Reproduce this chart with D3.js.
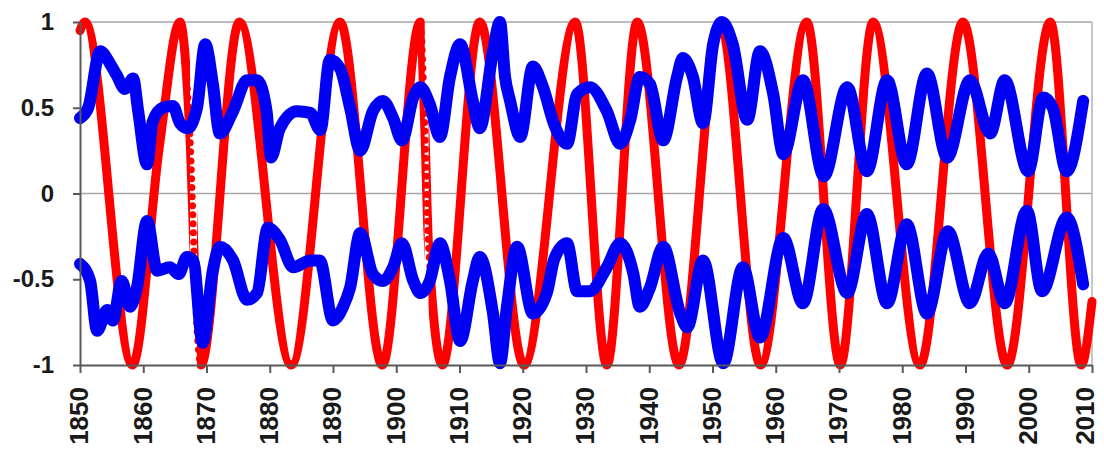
<!DOCTYPE html>
<html>
<head>
<meta charset="utf-8">
<script src="https://cdn.jsdelivr.net/npm/d3@7"></script>
<style>
  body { margin: 0; background: #fff; }
  svg { display: block; font-family: "Liberation Sans", Arial, sans-serif; }
  .axis text { font-weight: bold; fill: #1a1a1a; }
</style>
</head>
<body>
<div id="chart"></div>
<script>
// red curve: years and values at turning points
const redYears = [1850.0, 1850.8, 1858.3, 1862.6, 1865.8, 1867.3, 1868.6, 1869.1, 1875.2, 1883.4,
  1891.1, 1897.8, 1903.8, 1904.5, 1905.1, 1907.3, 1913.2, 1920.2, 1928.3, 1933.3, 1938.1,
  1944.7, 1951.2, 1957.6, 1964.9, 1970.2, 1975.4, 1982.8, 1989.6, 1996.6, 2003.4, 2008.3, 2010.0];
const redVals = [0.95, 1, -1, 0.29, 1, 0.4, -0.85, -1, 1, -1,
  1, -1, 1, 0.4, -0.3, -1, 1, -1, 1, -1, 1,
  -1, 1, -1, 1, -1, 1, -1, 1, -1, 1, -1, -0.63];
// stretches where the red samples fall far apart (drawn dotted)
const redFastStart = [1867.4, 1904.5];
const redFastEnd = [1868.5, 1905.1];

// blue, upper band
const blueUpYears = [1850.0, 1851.3, 1853.2, 1854.7, 1855.8, 1857.1, 1858.4, 1859.2, 1860.6, 1861.5,
  1863.1, 1864.7, 1865.8, 1867.0, 1868.5, 1869.8, 1871.0, 1872.1, 1874.2, 1876.4,
  1878.0, 1879.5, 1880.2, 1881.6, 1884.3, 1886.4, 1888.0, 1889.5, 1891.1, 1892.7,
  1894.3, 1896.3, 1897.9, 1899.5, 1900.9, 1902.7, 1903.8, 1905.3, 1906.9, 1908.5,
  1910.1, 1912.1, 1913.2, 1915.3, 1916.4, 1917.2, 1918.0, 1919.6, 1921.6, 1923.2,
  1925.0, 1927.0, 1928.6, 1930.6, 1933.3, 1935.4, 1937.0, 1938.5, 1940.1, 1942.2,
  1944.4, 1945.3, 1946.9, 1948.5, 1950.1, 1951.5, 1953.2, 1955.5, 1957.5, 1959.6,
  1961.2, 1964.3, 1967.6, 1971.3, 1974.4, 1977.6, 1980.7, 1983.9, 1987.1, 1990.7,
  1993.9, 1996.2, 1999.9, 2002.3, 2003.8, 2006.0, 2008.6];
const blueUpVals = [0.44, 0.50, 0.83, 0.76, 0.69, 0.61, 0.67, 0.48, 0.17, 0.42,
  0.50, 0.51, 0.41, 0.38, 0.50, 0.87, 0.64, 0.35, 0.48, 0.66,
  0.66, 0.48, 0.21, 0.38, 0.48, 0.47, 0.37, 0.78, 0.73, 0.50,
  0.25, 0.48, 0.54, 0.44, 0.31, 0.56, 0.62, 0.52, 0.33, 0.68,
  0.87, 0.54, 0.38, 0.83, 1.00, 0.68, 0.54, 0.33, 0.74, 0.62,
  0.40, 0.29, 0.58, 0.62, 0.48, 0.29, 0.43, 0.68, 0.64, 0.31,
  0.68, 0.79, 0.68, 0.41, 0.87, 1.00, 0.87, 0.43, 0.83, 0.58,
  0.23, 0.66, 0.10, 0.62, 0.13, 0.66, 0.17, 0.70, 0.21, 0.66,
  0.35, 0.66, 0.13, 0.56, 0.50, 0.13, 0.54];

// blue, lower band
const blueLoYears = [1850.0, 1851.6, 1852.7, 1854.3, 1855.2, 1856.6, 1857.9, 1859.0, 1860.6, 1862.2,
  1864.2, 1865.6, 1866.9, 1867.9, 1869.4, 1871.0, 1872.1, 1874.2, 1876.4, 1878.0,
  1879.7, 1881.6, 1883.7, 1886.4, 1887.9, 1890.0, 1891.6, 1892.7, 1894.3, 1896.3,
  1897.9, 1899.5, 1900.9, 1902.7, 1903.8, 1905.3, 1906.9, 1908.5, 1910.1, 1912.1,
  1913.2, 1915.3, 1916.4, 1917.5, 1919.1, 1921.6, 1923.8, 1925.0, 1927.0, 1928.6,
  1930.6, 1933.3, 1935.4, 1937.5, 1938.5, 1940.1, 1942.2, 1944.9, 1946.0, 1948.5,
  1951.7, 1954.8, 1957.5, 1961.2, 1964.3, 1967.5, 1971.3, 1974.4, 1977.6, 1980.7,
  1983.9, 1987.2, 1990.7, 1993.6, 1996.2, 1999.7, 2002.1, 2006.0, 2008.6];
const blueLoVals = [-0.41, -0.51, -0.80, -0.68, -0.74, -0.51, -0.66, -0.55, -0.16, -0.45,
  -0.43, -0.47, -0.37, -0.39, -0.87, -0.45, -0.31, -0.39, -0.62, -0.58,
  -0.20, -0.27, -0.43, -0.39, -0.39, -0.74, -0.66, -0.55, -0.23, -0.47,
  -0.51, -0.43, -0.29, -0.51, -0.58, -0.51, -0.29, -0.51, -0.86, -0.51,
  -0.37, -0.70, -0.99, -0.66, -0.31, -0.70, -0.58, -0.38, -0.29, -0.57,
  -0.57, -0.43, -0.29, -0.47, -0.66, -0.55, -0.31, -0.70, -0.78, -0.39,
  -0.99, -0.43, -0.84, -0.26, -0.64, -0.09, -0.58, -0.12, -0.64, -0.18,
  -0.70, -0.22, -0.64, -0.35, -0.64, -0.10, -0.57, -0.14, -0.53];

const xTicks = [1850, 1860, 1870, 1880, 1890, 1900, 1910, 1920, 1930, 1940, 1950, 1960, 1970, 1980, 1990, 2000, 2010];
const yTicks = [-1, -0.5, 0, 0.5, 1];
const yTickLabels = ["-1", "-0.5", "0", "0.5", "1"];

const w = 1104, h = 450;
const padLeft = 80, padRight = 1092, padTop = 22, padBottom = 365;

const x = d3.scaleLinear().domain([1850, 2010]).range([padLeft, padRight]);
const y = d3.scaleLinear().domain([-1, 1]).range([padBottom, padTop]);

const svg = d3.select("#chart").append("svg")
  .attr("width", w)
  .attr("height", h);

// clip paths: everything but the fast red stretches, and only those stretches
const defs = svg.append("defs");
const spans = redFastStart.map((d, i) => [d, redFastEnd[i]]);
const outside = [[1840, spans[0][0]], [spans[0][1], spans[1][0]], [spans[1][1], 2020]];
defs.append("clipPath").attr("id", "redSolid")
  .selectAll("rect").data(outside).enter().append("rect")
  .attr("x", d => x(d[0])).attr("width", d => x(d[1]) - x(d[0]))
  .attr("y", 0).attr("height", h);
defs.append("clipPath").attr("id", "redDots")
  .selectAll("rect").data(spans).enter().append("rect")
  .attr("x", d => x(d[0]) - 4).attr("width", d => x(d[1]) - x(d[0]) + 8)
  .attr("y", 0).attr("height", h);

// gridlines at 1 and 0, and the right frame edge
svg.selectAll("line.grid")
  .data([1, 0])
  .enter()
  .append("line")
  .attr("class", "grid")
  .attr("x1", padLeft).attr("x2", padRight)
  .attr("y1", d => y(d)).attr("y2", d => y(d))
  .attr("stroke", "#a6a6a6")
  .attr("stroke-width", 1.5);
svg.append("line")
  .attr("x1", padRight).attr("x2", padRight)
  .attr("y1", padTop).attr("y2", padBottom)
  .attr("stroke", "#b3b3b3")
  .attr("stroke-width", 1.5);

const line = d3.line()
  .x(d => x(d[0]))
  .y(d => y(d[1]))
  .curve(d3.curveMonotoneX);

const red = redYears.map((d, i) => [d, redVals[i]]);
const blueUp = blueUpYears.map((d, i) => [d, blueUpVals[i]]);
const blueLo = blueLoYears.map((d, i) => [d, blueLoVals[i]]);

svg.append("path")
  .datum(red)
  .attr("d", line)
  .attr("clip-path", "url(#redSolid)")
  .attr("fill", "none")
  .attr("stroke", "#ff0000")
  .attr("stroke-width", 9)
  .attr("stroke-linejoin", "round")
  .attr("stroke-linecap", "round");
svg.append("path")
  .datum(red)
  .attr("d", line)
  .attr("clip-path", "url(#redDots)")
  .attr("fill", "none")
  .attr("stroke", "#ff0000")
  .attr("stroke-width", 7)
  .attr("stroke-dasharray", "0 9")
  .attr("stroke-linecap", "round");

[blueUp, blueLo].forEach(s => {
  svg.append("path")
    .datum(s)
    .attr("d", line)
    .attr("fill", "none")
    .attr("stroke", "#0000f5")
    .attr("stroke-width", 12)
    .attr("stroke-linejoin", "round")
    .attr("stroke-linecap", "round");
});

// axes
const yAxis = d3.axisLeft(y)
  .tickValues(yTicks)
  .tickFormat((d, i) => yTickLabels[i])
  .tickSize(7)
  .tickSizeOuter(0)
  .tickPadding(19);
const xAxis = d3.axisBottom(x)
  .tickValues(xTicks)
  .tickFormat(d => d)
  .tickSize(8)
  .tickSizeOuter(0);

const gy = svg.append("g")
  .attr("class", "axis")
  .attr("transform", "translate(" + padLeft + ",0)")
  .call(yAxis);
gy.selectAll("text").style("font-size", "24px");

const gx = svg.append("g")
  .attr("class", "axis")
  .attr("transform", "translate(0," + padBottom + ")")
  .call(xAxis);
// the last label sits a little inside the frame, as in the original
gx.selectAll("text")
  .style("font-size", "26px")
  .style("text-anchor", "end")
  .attr("x", -22)
  .attr("y", (d, i) => i === xTicks.length - 1 ? -8 : -1.5)
  .attr("dy", "0.36em")
  .attr("transform", "rotate(-90)");

svg.selectAll(".axis path, .axis line")
  .attr("stroke", "#595959")
  .attr("stroke-width", 2);
</script>
</body>
</html>
